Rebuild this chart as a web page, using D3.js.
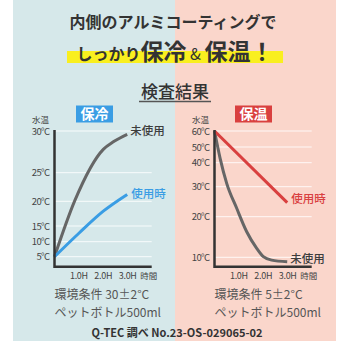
<!DOCTYPE html>
<html>
<head>
<meta charset="utf-8">
<script src="https://cdn.jsdelivr.net/npm/d3@7"></script>
<style>
  html, body { margin: 0; padding: 0; background: #fff; }
  svg { display: block; font-family: "Noto Sans CJK JP", "Noto Sans", sans-serif; }
</style>
</head>
<body>
<div id="chart"></div>
<script>
// readings: [hours, °C]
const coolTicks = [5, 10, 15, 20, 25, 30];
const warmTicks = [10, 20, 30, 40, 50, 60];
const hourTicks = [1, 2, 3];
const hourLabels = ["1.0H", "2.0H", "3.0H"];

const coolUnused = [[0, 5], [0.84, 20.2], [2.0, 27.8], [2.41, 28.7], [2.98, 29.6]];
const coolUsed = [[0, 5], [1, 12.7], [2.0, 18.0], [2.98, 21.2]];
const warmUnused = [[0, 60], [0.23, 42.8], [0.5, 31.4], [0.91, 22.8], [1.32, 16.3], [1.73, 12.2], [2.0, 10.15], [2.34, 9.3], [2.98, 8.9]];
const warmUsed = [[0, 60], [2.98, 24.7]];

const W = 350, H = 350;
const dark = "#333", grey = "#666";

const svg = d3.select("#chart").append("svg")
    .attr("width", W).attr("height", H);

// backgrounds
svg.append("rect").attr("width", W).attr("height", H).attr("fill", "#fff");
svg.append("rect").attr("x", 13).attr("y", 0).attr("width", 162).attr("height", 341).attr("fill", "#d6e8ea");
svg.append("rect").attr("x", 175).attr("y", 0).attr("width", 161).attr("height", 341).attr("fill", "#fad6cb");

// heading
svg.append("text").attr("x", 173).attr("y", 28)
    .attr("text-anchor", "middle").attr("font-size", 16).attr("font-weight", 700)
    .attr("fill", dark).text("内側のアルミコーティングで");

svg.append("rect").attr("x", 67).attr("y", 51).attr("width", 216).attr("height", 12).attr("fill", "#f9ef1f");
const t2 = svg.append("text").attr("x", 175).attr("y", 60)
    .attr("text-anchor", "middle").attr("font-weight", 700).attr("fill", dark);
t2.append("tspan").attr("font-size", 16).text("しっかり");
t2.append("tspan").attr("font-size", 23).text("保冷");
t2.append("tspan").attr("font-size", 16).attr("font-weight", 400).text(" & ");
t2.append("tspan").attr("font-size", 23).text("保温！");

svg.append("text").attr("x", 175).attr("y", 98)
    .attr("text-anchor", "middle").attr("font-size", 17).attr("font-weight", 500)
    .attr("fill", dark).text("検査結果");
svg.append("line").attr("x1", 139).attr("x2", 211).attr("y1", 101.5).attr("y2", 101.5)
    .attr("stroke", "#555").attr("stroke-width", 1.6);

function panel(opt) {
    const g = svg.append("g");
    const x = d3.scaleLinear([0, 3], [opt.x0, opt.x0 + 73.2]);
    const y = d3.scaleLinear(opt.ticks, opt.ys);
    const right = opt.x0 + 97.2, bottom = 266.7;

    // badge
    g.append("rect").attr("x", opt.badgeX).attr("y", 105.5).attr("width", 37).attr("height", 17)
        .attr("fill", opt.badge);
    g.append("text").attr("x", opt.badgeX + 18.5).attr("y", 119)
        .attr("text-anchor", "middle").attr("font-size", 14).attr("font-weight", 700)
        .attr("fill", "#fff").text(opt.badgeText);

    g.append("text").attr("x", opt.x0 - 14).attr("y", 123)
        .attr("text-anchor", "middle").attr("font-size", 8.5).attr("fill", "#444").text("水温");

    // grid
    g.append("g").selectAll("line").data(opt.ticks).join("line")
        .attr("x1", opt.x0).attr("x2", right)
        .attr("y1", d => y(d)).attr("y2", d => y(d))
        .attr("stroke", "#fff").attr("stroke-opacity", 0.85).attr("stroke-width", 1);

    g.append("g").selectAll("text").data(opt.ticks).join("text")
        .attr("x", opt.x0 - 5).attr("y", d => y(d) + 3.5)
        .attr("text-anchor", "end").attr("font-size", 9.5).attr("letter-spacing", -0.6)
        .attr("fill", "#444").text(d => d + "°C");

    // lines
    const line = d3.line().x(d => x(d[0])).y(d => y(d[1])).curve(d3.curveMonotoneX);
    g.append("path").datum(opt.unused).attr("d", line)
        .attr("fill", "none").attr("stroke", grey).attr("stroke-width", 3);
    g.append("path").datum(opt.used).attr("d", line)
        .attr("fill", "none").attr("stroke", opt.color).attr("stroke-width", 3);

    // axes
    g.append("path").attr("d", `M${opt.x0},${y(opt.ticks[opt.ticks.length - 1]) - 1}V${bottom}H${right}`)
        .attr("fill", "none").attr("stroke", dark).attr("stroke-width", 2.5);

    g.append("g").selectAll("text").data(hourTicks).join("text")
        .attr("x", d => x(d)).attr("y", 278.5)
        .attr("text-anchor", "middle").attr("font-size", 9).attr("letter-spacing", -0.3)
        .attr("fill", "#444").text((d, i) => hourLabels[i]);
    g.append("text").attr("x", right - 3).attr("y", 278.5)
        .attr("text-anchor", "middle").attr("font-size", 8.5).attr("fill", "#444").text("時間");

    // series labels
    const lastU = opt.unused[opt.unused.length - 1], lastS = opt.used[opt.used.length - 1];
    g.append("text").attr("x", x(lastU[0]) + 3).attr("y", y(lastU[1]) + opt.unusedDy)
        .attr("font-size", 11.5).attr("font-weight", 500).attr("fill", "#3d3d3d").text("未使用");
    g.append("text").attr("x", x(lastS[0]) + 4).attr("y", y(lastS[1]) + opt.usedDy)
        .attr("font-size", 11.5).attr("font-weight", 500).attr("fill", opt.color).text("使用時");

    // conditions
    g.append("text").attr("x", opt.x0).attr("y", 299.2)
        .attr("font-size", 12).attr("fill", "#555").text(opt.cond);
    g.append("text").attr("x", opt.x0).attr("y", 316.8)
        .attr("font-size", 12).attr("fill", "#555").text("ペットボトル500ml");
}

panel({
    x0: 54.5, ticks: coolTicks, ys: [256.7, 241.7, 226, 201.3, 172.7, 131],
    unused: coolUnused, used: coolUsed, color: "#3a9de4",
    badge: "#3a9de4", badgeX: 76, badgeText: "保冷",
    unusedDy: 1, usedDy: 4, cond: "環境条件 30±2°C"
});
panel({
    x0: 214.5, ticks: warmTicks, ys: [257.3, 216.7, 186.7, 162.7, 147, 131],
    unused: warmUnused, used: warmUsed, color: "#d9403f",
    badge: "#d9403f", badgeX: 235, badgeText: "保温",
    unusedDy: 1, usedDy: 0, cond: "環境条件 5±2°C"
});

svg.append("text").attr("x", 177).attr("y", 337)
    .attr("text-anchor", "middle").attr("font-size", 11).attr("font-weight", 700)
    .attr("fill", dark).text("Q-TEC 調べ No.23-OS-029065-02");
</script>
</body>
</html>
